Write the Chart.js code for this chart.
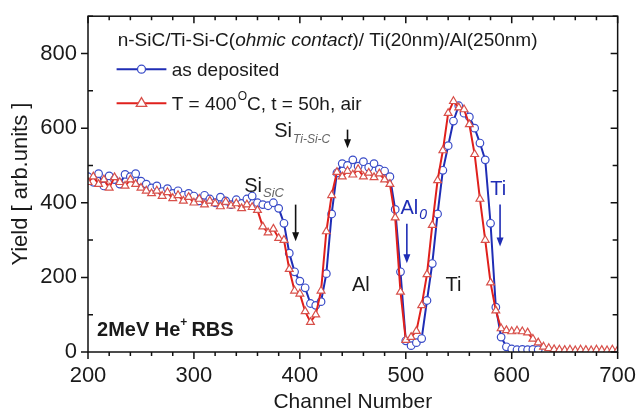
<!DOCTYPE html>
<html>
<head>
<meta charset="utf-8">
<script src="https://cdn.jsdelivr.net/npm/chart.js@4.4.1/dist/chart.umd.min.js"></script>
<style>
  html, body { margin: 0; padding: 0; background: #fff; }
  #wrap { width: 639px; height: 410px; }
</style>
</head>
<body>
<div id="wrap"><canvas id="rbsChart"></canvas></div>
<script>
// RBS spectra, channel step 5
const channels = [
  200, 205, 210, 215, 220, 225, 230, 235, 240, 245,
  250, 255, 260, 265, 270, 275, 280, 285, 290, 295,
  300, 305, 310, 315, 320, 325, 330, 335, 340, 345,
  350, 355, 360, 365, 370, 375, 380, 385, 390, 395,
  400, 405, 410, 415, 420, 425, 430, 435, 440, 445,
  450, 455, 460, 465, 470, 475, 480, 485, 490, 495,
  500, 505, 510, 515, 520, 525, 530, 535, 540, 545,
  550, 555, 560, 565, 570, 575, 580, 585, 590, 595,
  600, 605, 610, 615, 620, 625, 630, 635, 640, 645,
  650, 655, 660, 665, 670, 675, 680, 685, 690, 695,
  700
];

const asDeposited = [
  470, 455, 478, 445, 472, 462, 450, 476, 470, 478,
  458, 450, 440, 445, 430, 438, 425, 432, 420, 425,
  418, 405, 420, 410, 400, 415, 405, 395, 408, 398,
  410, 418, 400, 395, 392, 400, 385, 345, 265, 215,
  190, 172, 130, 125, 135, 210, 370, 480, 505, 500,
  515, 498, 510, 495, 505, 490, 485, 470, 382, 215,
  30, 17, 25, 36, 138, 237, 370, 487, 553, 619,
  660, 640, 630, 600, 560, 515, 345, 120, 40, 14,
  8, 6, 7, 6, 7, 6, null, null, null, null,
  null, null, null, null, null, null, null, null, null, null,
  null
];

const annealed = [
  455, 470, 450, 462, 440, 468, 455, 445, 462, 450,
  440, 432, 425, 432, 418, 428, 412, 420, 405, 415,
  400, 410, 395, 405, 398, 390, 402, 392, 398, 385,
  395, 388, 380, 336, 320, 330, 305, 300, 222, 164,
  156, 109, 80, 100, 164, 323, 420, 482, 470, 485,
  475, 490, 470, 480, 468, 478, 462, 450, 360, 161,
  32, 40, 56, 125, 208, 340, 460, 540, 640, 672,
  655, 650, 610, 530, 410, 300, 186, 111, 63, 58,
  55, 57, 55, 52, 35, 25, 14, 10, 7, 6,
  5, 6, 4, 6, 5, 4, 6, 5, 4, 6,
  5
];

const xTickValues = [200, 300, 400, 500, 600, 700];
const yTickValues = [0, 200, 400, 600, 800];

const BLUE = '#1f2db5';
const BLUE_MARK = '#3a4cc8';
const RED = '#e0201c';
const RED_MARK = '#d8504a';
const FONT = 'Arial, "Liberation Sans", sans-serif';

function toPoints(values) {
  return channels.map((c, i) => ({ x: c, y: values[i] }));
}

function arrow(ctx, x, y1, y2, color) {
  ctx.strokeStyle = color;
  ctx.fillStyle = color;
  ctx.lineWidth = 1.6;
  ctx.beginPath();
  ctx.moveTo(x, y1);
  ctx.lineTo(x, y2 - 7);
  ctx.stroke();
  ctx.beginPath();
  ctx.moveTo(x - 3.5, y2 - 9);
  ctx.lineTo(x + 3.5, y2 - 9);
  ctx.lineTo(x, y2);
  ctx.closePath();
  ctx.fill();
}

function triangle(ctx, x, y, r) {
  ctx.beginPath();
  ctx.moveTo(x, y - r);
  ctx.lineTo(x + r * 0.95, y + r * 0.6);
  ctx.lineTo(x - r * 0.95, y + r * 0.6);
  ctx.closePath();
}

// frame with Origin-style tick marks
const framePlugin = {
  id: 'frame',
  afterDraw(chart) {
    const { ctx, chartArea: a, scales: { x, y } } = chart;
    ctx.save();
    ctx.strokeStyle = '#111';
    ctx.lineWidth = 1.5;
    ctx.strokeRect(a.left, a.top, a.right - a.left, a.bottom - a.top);
    ctx.beginPath();
    for (let v = 200; v <= 700; v += 20) {
      const px = x.getPixelForValue(v);
      const len = v % 100 === 0 ? 7 : 4;
      ctx.moveTo(px, a.bottom); ctx.lineTo(px, a.bottom + len);
      ctx.moveTo(px, a.top); ctx.lineTo(px, a.top + len);
    }
    for (let v = 0; v <= 900; v += 100) {
      const py = y.getPixelForValue(v);
      if (v % 200 === 0) {
        ctx.moveTo(a.left - 7, py); ctx.lineTo(a.left, py);
        ctx.moveTo(a.right - 7, py); ctx.lineTo(a.right, py);
      } else {
        ctx.moveTo(a.left, py); ctx.lineTo(a.left + 5, py);
        ctx.moveTo(a.right - 5, py); ctx.lineTo(a.right, py);
      }
    }
    ctx.stroke();
    ctx.restore();
  }
};

// legend, sample description and peak labels
const labelPlugin = {
  id: 'labels',
  afterDraw(chart) {
    const { ctx, scales: { x, y } } = chart;
    const X = v => x.getPixelForValue(v);
    const Y = v => y.getPixelForValue(v);
    const font = (size, style) => `${style || ''} ${size}px ${FONT}`;
    ctx.save();
    ctx.textBaseline = 'alphabetic';
    ctx.textAlign = 'left';
    ctx.fillStyle = '#1a1a1a';

    // sample description
    let tx = X(228), ty = Y(821);
    const parts = [
      ['n-SiC/Ti-Si-C(', ''],
      ['ohmic contact', 'italic'],
      [')/ Ti(20nm)/Al(250nm)', '']
    ];
    parts.forEach(([t, st]) => {
      ctx.font = font(19, st);
      ctx.fillText(t, tx, ty);
      tx += ctx.measureText(t).width;
    });

    // legend rows
    const lx1 = X(227), lx2 = X(274), lm = X(250.5);
    let ly = Y(758);
    ctx.lineWidth = 2;
    ctx.strokeStyle = BLUE;
    ctx.beginPath(); ctx.moveTo(lx1, ly); ctx.lineTo(lx2, ly); ctx.stroke();
    ctx.fillStyle = '#fff';
    ctx.strokeStyle = BLUE_MARK;
    ctx.lineWidth = 1.3;
    ctx.beginPath(); ctx.arc(lm, ly, 4, 0, Math.PI * 2); ctx.fill(); ctx.stroke();
    ctx.fillStyle = '#1a1a1a';
    ctx.font = font(19);
    ctx.fillText('as deposited', X(279), ly + 7);

    ly = Y(667);
    ctx.lineWidth = 2;
    ctx.strokeStyle = RED;
    ctx.beginPath(); ctx.moveTo(lx1, ly); ctx.lineTo(lx2, ly); ctx.stroke();
    ctx.fillStyle = '#fff';
    ctx.strokeStyle = RED_MARK;
    ctx.lineWidth = 1.3;
    triangle(ctx, lm, ly, 5.5); ctx.fill(); ctx.stroke();
    ctx.fillStyle = '#1a1a1a';
    tx = X(279);
    ctx.font = font(19);
    ctx.fillText('T = 400', tx, ly + 7);
    tx += ctx.measureText('T = 400').width;
    ctx.font = font(12);
    ctx.fillText('O', tx + 1, ly - 3);
    tx += ctx.measureText('O').width + 1;
    ctx.font = font(19);
    ctx.fillText('C, t = 50h, air', tx, ly + 7);

    // beam info
    tx = X(208.5); ty = Y(42);
    ctx.font = font(20, 'bold');
    ctx.fillText('2MeV He', tx, ty);
    tx += ctx.measureText('2MeV He').width;
    ctx.font = font(12, 'bold');
    ctx.fillText('+', tx, ty - 10);
    tx += ctx.measureText('+').width + 4;
    ctx.font = font(20, 'bold');
    ctx.fillText('RBS', tx, ty);

    // Si in SiC
    tx = X(347.5); ty = Y(429);
    ctx.font = font(20);
    ctx.fillText('Si', tx, ty);
    tx += ctx.measureText('Si').width + 1;
    ctx.fillStyle = '#666';
    ctx.font = font(13, 'italic');
    ctx.fillText('SiC', tx, ty + 5);
    arrow(ctx, X(396), Y(395), Y(297), '#111');

    // Si in Ti-Si-C
    ctx.fillStyle = '#1a1a1a';
    tx = X(375.8); ty = Y(575);
    ctx.font = font(20);
    ctx.fillText('Si', tx, ty);
    tx += ctx.measureText('Si').width + 1;
    ctx.fillStyle = '#666';
    ctx.font = font(12, 'italic');
    ctx.fillText('Ti-Si-C', tx, ty + 6);
    arrow(ctx, X(445), Y(596), Y(546), '#111');

    // layer labels
    ctx.fillStyle = '#1a1a1a';
    ctx.font = font(20);
    ctx.textAlign = 'center';
    ctx.fillText('Al', X(457.5), Y(183) + 7);
    ctx.fillText('Ti', X(545), Y(183) + 7);
    ctx.textAlign = 'left';

    // surface edges
    ctx.fillStyle = BLUE;
    tx = X(495); ty = Y(371);
    ctx.font = font(20);
    ctx.fillText('Al', tx, ty);
    tx += ctx.measureText('Al').width + 1;
    ctx.font = font(14, 'italic');
    ctx.fillText('0', tx, ty + 5);
    arrow(ctx, X(501), Y(344), Y(238), BLUE);

    ctx.font = font(20);
    ctx.fillText('Ti', X(579.7), Y(421));
    arrow(ctx, X(589), Y(395), Y(283), BLUE);

    ctx.restore();
  }
};

const ctx = document.getElementById('rbsChart').getContext('2d');

new Chart(ctx, {
  type: 'line',
  data: {
    datasets: [
      {
        label: 'T = 400°C, t = 50h, air',
        data: toPoints(annealed),
        borderColor: RED,
        borderWidth: 2,
        pointStyle: 'triangle',
        pointRadius: 4.5,
        pointBorderWidth: 1.2,
        pointBorderColor: RED_MARK,
        pointBackgroundColor: '#fff',
        tension: 0
      },
      {
        label: 'as deposited',
        data: toPoints(asDeposited),
        borderColor: BLUE,
        borderWidth: 2,
        pointStyle: 'circle',
        pointRadius: 3.8,
        pointBorderWidth: 1.2,
        pointBorderColor: BLUE_MARK,
        pointBackgroundColor: '#fff',
        tension: 0,
        spanGaps: false
      }
    ]
  },
  options: {
    responsive: true,
    maintainAspectRatio: false,
    animation: false,
    layout: { padding: { top: 12, right: 19, left: 0, bottom: 0 } },
    plugins: {
      legend: { display: false },
      tooltip: { enabled: false }
    },
    scales: {
      x: {
        type: 'linear',
        min: 200,
        max: 700,
        grid: { display: false },
        border: { display: false },
        afterBuildTicks: scale => { scale.ticks = xTickValues.map(v => ({ value: v })); },
        afterFit: scale => { scale.height = 58; },
        ticks: {
          padding: 3,
          color: '#1a1a1a',
          font: { family: FONT, size: 22 }
        },
        title: {
          display: true,
          text: 'Channel Number',
          color: '#1a1a1a',
          padding: { top: 0, bottom: -5 },
          font: { family: FONT, size: 21 }
        }
      },
      y: {
        type: 'linear',
        min: 0,
        max: 900,
        grid: { display: false },
        border: { display: false },
        afterBuildTicks: scale => { scale.ticks = yTickValues.map(v => ({ value: v })); },
        afterFit: scale => { scale.width = 88; },
        ticks: {
          padding: 3,
          color: '#1a1a1a',
          font: { family: FONT, size: 22 }
        },
        title: {
          display: true,
          text: 'Yield [ arb.units ]',
          color: '#1a1a1a',
          padding: { top: 8, bottom: 0 },
          font: { family: FONT, size: 22 }
        }
      }
    }
  },
  plugins: [framePlugin, labelPlugin]
});
</script>
</body>
</html>
